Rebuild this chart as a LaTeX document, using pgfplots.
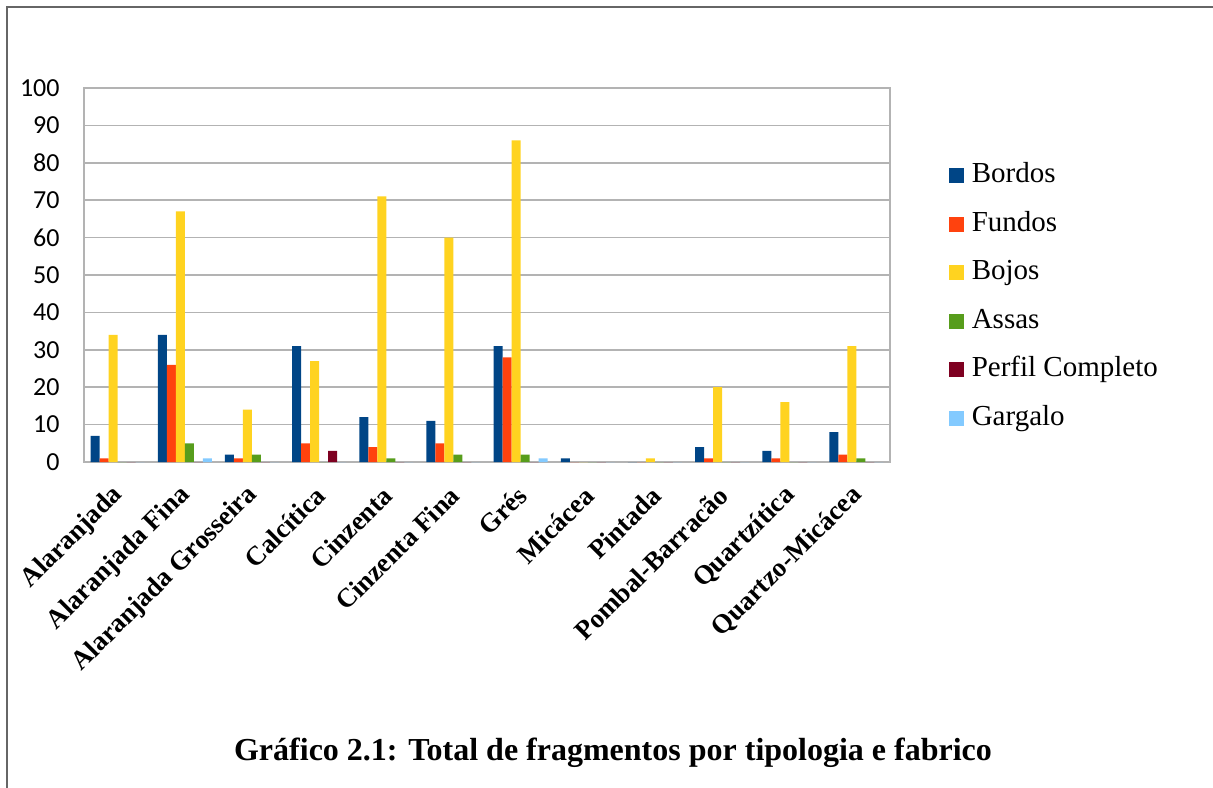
\documentclass[border=0pt]{standalone}
\usepackage{pgfplots}
\pgfplotsset{compat=1.18}
\usepackage{fontspec}
\setmainfont{Liberation Serif}
\newfontfamily\carlito{Carlito}
\definecolor{cB}{HTML}{004586}
\definecolor{cF}{HTML}{FF420E}
\definecolor{cBj}{HTML}{FFD320}
\definecolor{cA}{HTML}{579D1C}
\definecolor{cP}{HTML}{7E0021}
\definecolor{cG}{HTML}{83CAFF}
\definecolor{gridc}{HTML}{B3B3B3}
\begin{document}
\begin{tikzpicture}
\useasboundingbox (0,0) rectangle (606.5pt,393.5pt);
\draw[color=black!60, line width=1pt] (3.5pt,-2pt) -- (3.5pt,390pt) -- (610pt,390pt);
\begin{axis}[
  at={(42pt,162.5pt)}, anchor=south west,
  scale only axis, width=403pt, height=187pt,
  ybar=0pt, bar width=4.5pt,
  xmin=-0.5, xmax=11.5, ymin=0, ymax=100,
  ytick={0,10,...,100},
  xtick={0,...,11},
  xticklabels={Alaranjada,Alaranjada Fina,Alaranjada Grosseira,Calcítica,Cinzenta,Cinzenta Fina,Grés,Micácea,Pintada,Pombal-Barracão,Quartzítica,Quartzo-Micácea},
  major tick length=0pt,
  ymajorgrids, grid style={gridc, line width=0.8pt},
  axis line style={gridc, line width=0.8pt},
  /pgf/number format/assume math mode=true,
  yticklabel style={font=\carlito\fontsize{13}{15}\selectfont, anchor=east, inner sep=0pt, xshift=-12pt},
  xticklabel style={font=\bfseries\fontsize{13.4}{16}\selectfont, inner sep=0pt, xshift=0.8pt, yshift=-14.5pt, rotate=45, anchor=east},
  legend image code/.code={\fill[#1] (0pt,-3.75pt) rectangle (7.5pt,3.75pt);},
  legend style={draw=none, fill=none, at={(1.065,0.441)}, anchor=west,
    font=\fontsize{14.5}{17}\selectfont, row sep=9.25pt,
    nodes={inner sep=1pt, text height=10pt, text depth=3pt},
    /tikz/every odd column/.append style={column sep=3pt}},
  legend cell align=left,
]
\addplot[fill=cB, draw=none] coordinates {(0,7)(1,34)(2,2)(3,31)(4,12)(5,11)(6,31)(7,1)(8,0)(9,4)(10,3)(11,8)};
\addplot[fill=cF, draw=none] coordinates {(0,1)(1,26)(2,1)(3,5)(4,4)(5,5)(6,28)(7,0)(8,0)(9,1)(10,1)(11,2)};
\addplot[fill=cBj, draw=none] coordinates {(0,34)(1,67)(2,14)(3,27)(4,71)(5,60)(6,86)(7,0)(8,1)(9,20)(10,16)(11,31)};
\addplot[fill=cA, draw=none] coordinates {(0,0)(1,5)(2,2)(3,0)(4,1)(5,2)(6,2)(7,0)(8,0)(9,0)(10,0)(11,1)};
\addplot[fill=cP, draw=none] coordinates {(0,0)(1,0)(2,0)(3,3)(4,0)(5,0)(6,0)(7,0)(8,0)(9,0)(10,0)(11,0)};
\addplot[fill=cG, draw=none] coordinates {(0,0)(1,1)(2,0)(3,0)(4,0)(5,0)(6,1)(7,0)(8,0)(9,0)(10,0)(11,0)};
\legend{Bordos,Fundos,Bojos,Assas,Perfil Completo,Gargalo}
\end{axis}
\node[anchor=base, font=\bfseries\fontsize{16}{18}\selectfont, inner sep=0pt] at (306.5pt,13.5pt) {Gráfico 2.1: Total de fragmentos por tipologia e fabrico};
\end{tikzpicture}
\end{document}
